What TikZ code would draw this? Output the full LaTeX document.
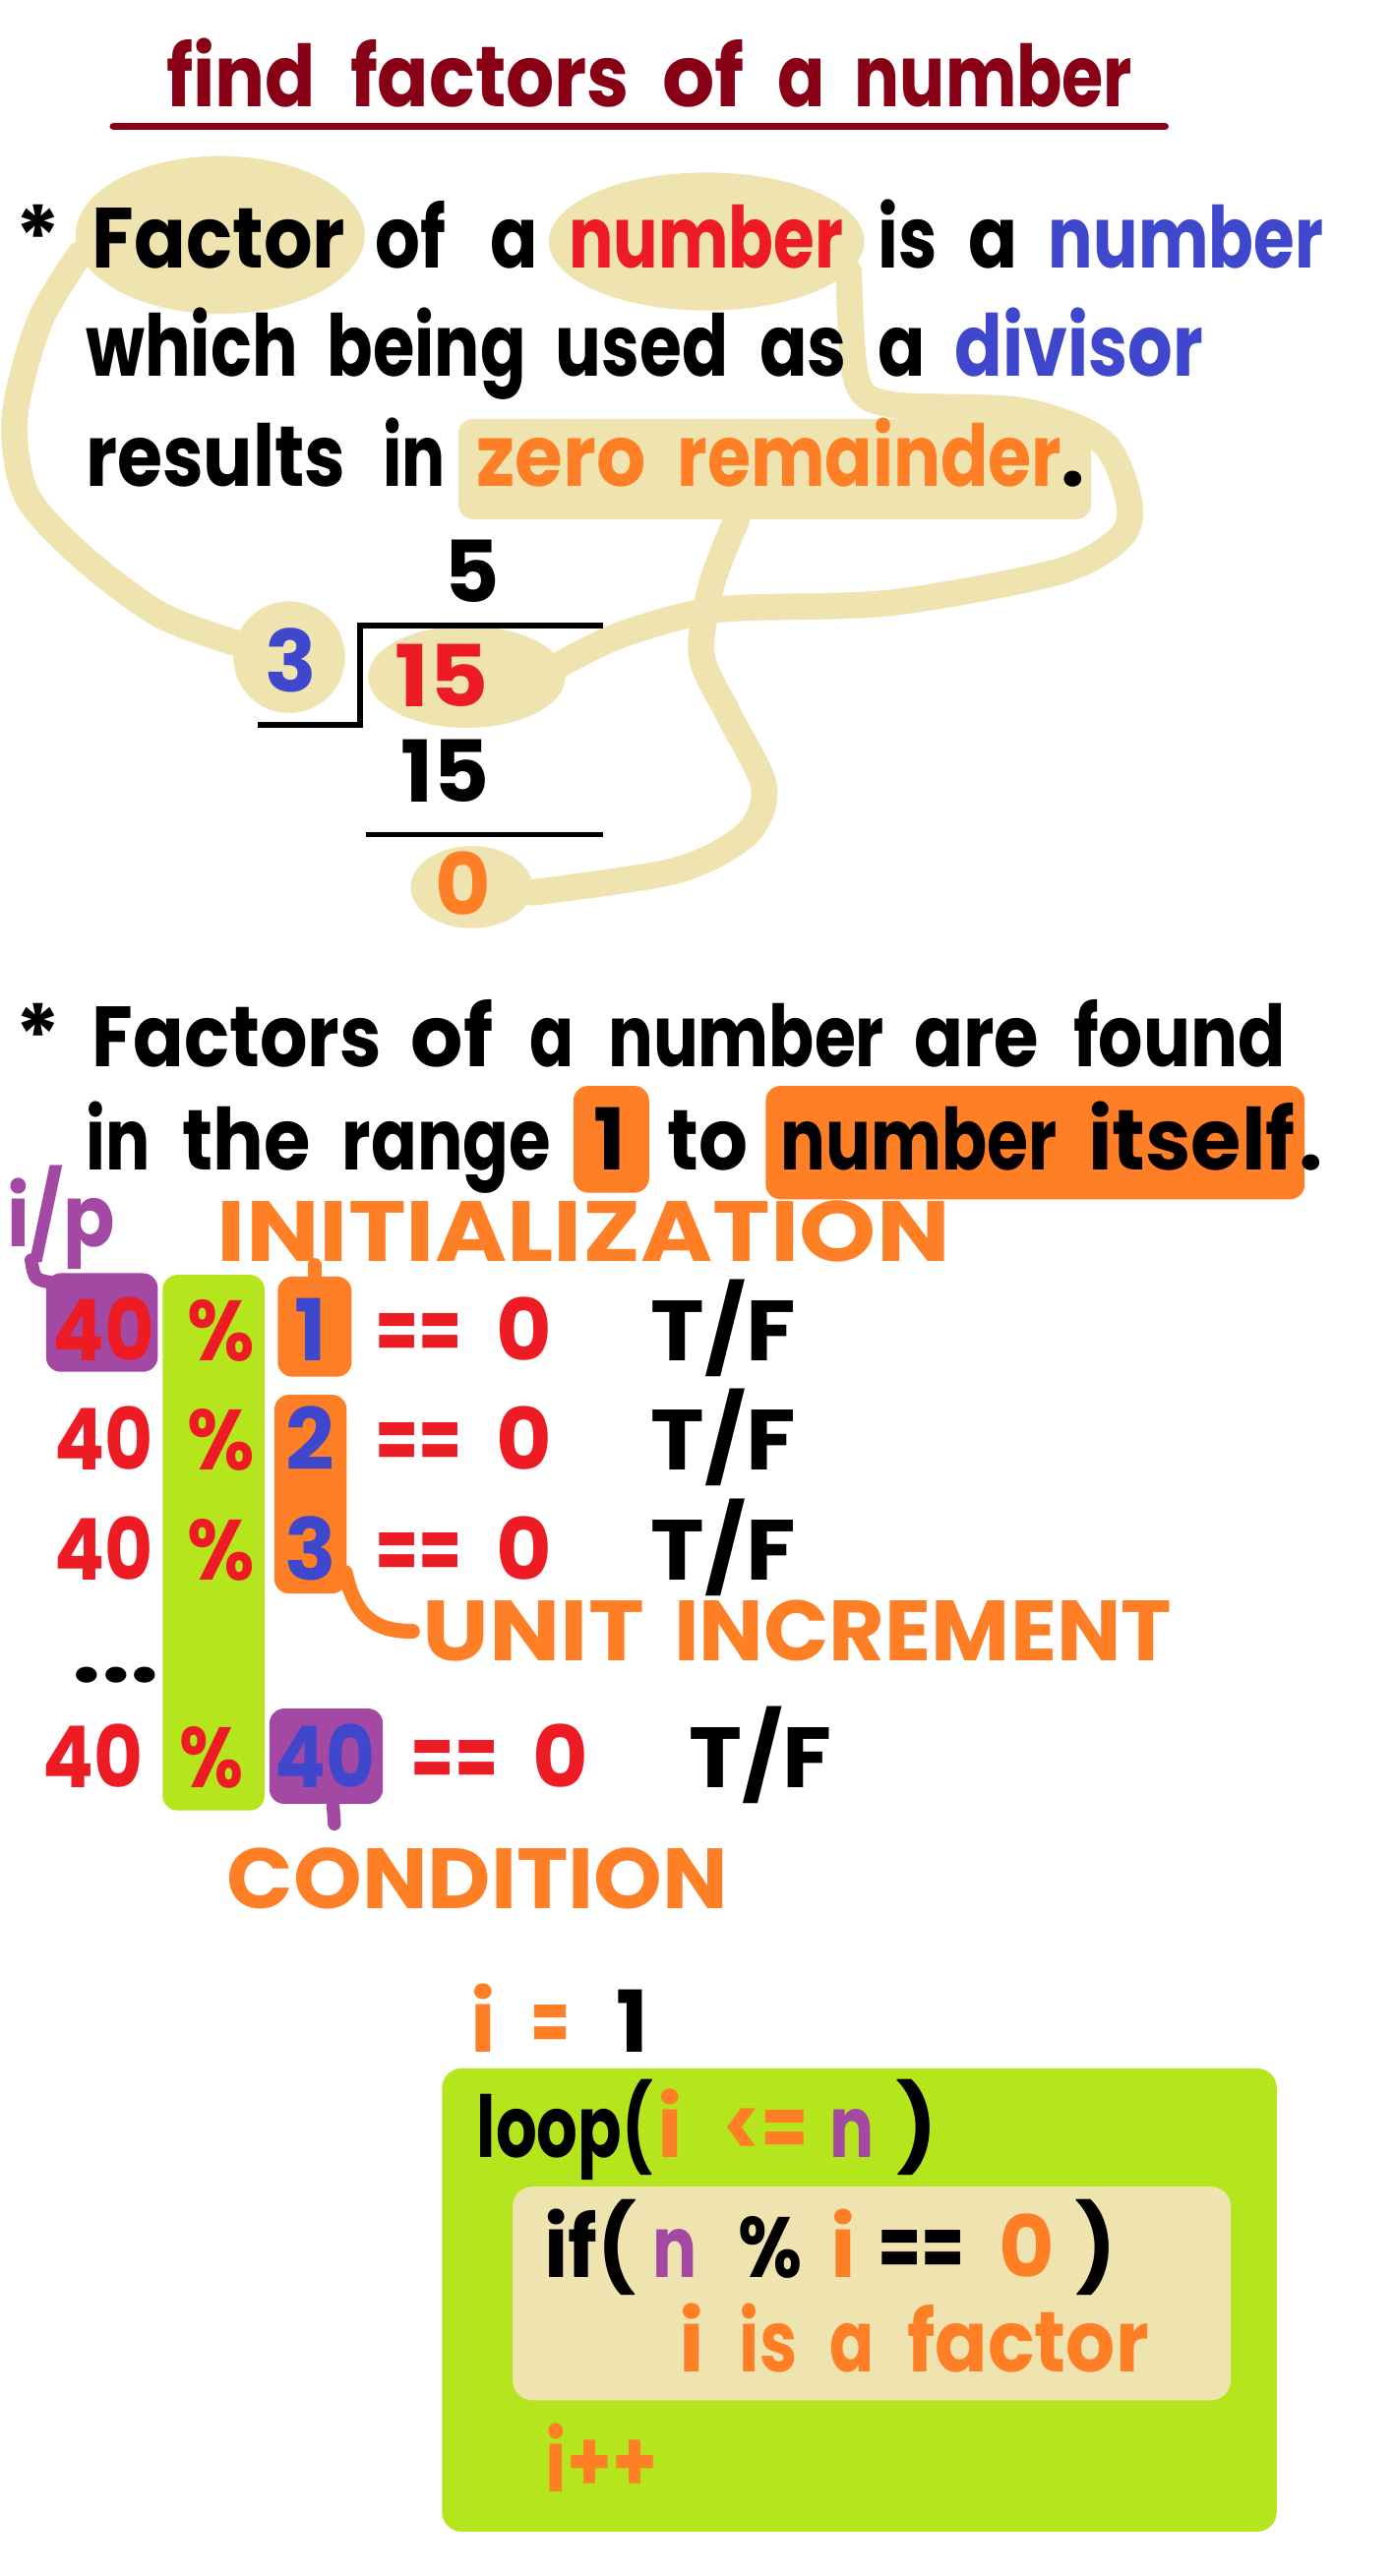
\documentclass[tikz,border=0pt]{standalone}
\usepackage{fontspec}
\setmainfont{Poppins}
\usetikzlibrary{shapes.geometric,calc}
\definecolor{dred}{HTML}{880015}
\definecolor{pred}{HTML}{ED1C24}
\definecolor{pblue}{HTML}{3F48CC}
\definecolor{porange}{HTML}{FF7F27}
\definecolor{pbeige}{HTML}{EFE4B0}
\definecolor{plime}{HTML}{B5E61D}
\definecolor{ppurple}{HTML}{A349A4}
\newcommand\tx[6]{\pgfmathsetmacro\tmpw{#3-#2+4}\node[txt,text=#5,anchor=base west] (#1) at ({#2-2},#4) {\resizebox{\tmpw pt}{\height}{#6}};}
\newcommand\ch[5]{\node[txt,text=#4,anchor=base] (#1) at (#2,#3) {#5};}
\tikzset{
  txt/.style={inner sep=0pt, font=\bfseries\fontsize{52}{60}\selectfont},
  bg/.style={draw=none, inner sep=0pt, rounded corners=9pt},
  ell/.style={ellipse, draw=none, fill=pbeige, inner sep=0pt},
  beigeline/.style={draw=pbeige, line width=16pt, line cap=round, line join=round},
  stub/.style={line width=8pt, line cap=round}
}
\begin{document}
\begin{tikzpicture}[x=1pt,y=-1pt]
\fill[white] (0,0) rectangle (848,1568);
\useasboundingbox (0,0) rectangle (848,1568);

% ---------- section 1 backgrounds
\node[ell, minimum width=176, minimum height=96] (fE) at (134,143) {};
\node[ell, minimum width=192, minimum height=84] (nE) at (430,147) {};
\node[ell, minimum width=68, minimum height=68] (e3) at (176,400) {};
\node[ell, minimum width=120, minimum height=62] (e15) at (284,412) {};
\node[ell, minimum width=74, minimum height=50] (e0) at (287,540) {};
\node[bg, fill=pbeige, minimum width=385, minimum height=61] (zr) at (471.5,285.5) {};
\draw[beigeline] plot[smooth] coordinates {(fE.188) (24,196) (9,254) (16,301) (49,338) (97,374) (e3.165)};
\draw[beigeline] plot[smooth] coordinates {(nE.-12) (521,230) (541,246) (622,250) (671,269) (687,305) (682,327) (644,348) (541,367) (438,371) (379,386) (e15.8)};
\draw[beigeline] plot[smooth] coordinates {($(zr.south west)!0.44!(zr.south east)$) (433,356) (427,399) (444,436) (465,479) (454,508) (411,530) (e0.-5)};

% ---------- section 2 backgrounds
\node[bg, fill=porange, minimum width=46, minimum height=65] (b1t) at (372,693.5) {};
\node[bg, fill=porange, minimum width=328, minimum height=69] (bnum) at (630,695.5) {};
\node[bg, fill=ppurple, minimum width=68, minimum height=60] (pb1) at (62,805) {};
\node[bg, fill=plime, minimum width=62, minimum height=326] (gbar) at (130,939) {};
\node[bg, fill=porange, minimum width=45, minimum height=61] (b1) at (191.5,807.5) {};
\node[bg, fill=porange, minimum width=44, minimum height=121] (b23) at (189,909.5) {};
\node[bg, fill=ppurple, minimum width=69, minimum height=58] (pb4) at (198.5,1069) {};

% ---------- section 3 backgrounds
\node[bg, fill=plime, rounded corners=12pt, minimum width=508, minimum height=282] (gbox) at (523,1400) {};
\node[bg, fill=pbeige, rounded corners=12pt, minimum width=437, minimum height=130] (bbox) at (530.5,1396) {};

% ---------- title
\tx{t1}{103}{190}{65}{dred}{find}
\tx{t2}{215}{381}{65}{dred}{factors}
\tx{t3}{405}{451}{65}{dred}{of}
\tx{t4}{475}{500}{65}{dred}{a}
\tx{t5}{522}{687}{65}{dred}{number}
\draw[dred, line width=4.5pt, line cap=round] (69,77) -- (709,77);

% ---------- paragraph 1
\ch{s1}{23}{163}{black}{*}
\tx{l1a}{58}{208}{163}{black}{Factor}
\tx{l1b}{230}{269}{163}{black}{of}
\tx{l1c}{300}{325}{163}{black}{a}
\tx{l1d}{348}{511}{163}{pred}{number}
\tx{l1e}{536}{568}{163}{black}{is}
\tx{l1f}{591}{617}{163}{black}{a}
\tx{l1g}{640}{803}{163}{pblue}{number}
\tx{l2a}{54}{179}{229}{black}{which}
\tx{l2b}{201}{318}{229}{black}{being}
\tx{l2c}{340}{441}{229}{black}{used}
\tx{l2d}{464}{513}{229}{black}{as}
\tx{l2e}{536}{561}{229}{black}{a}
\tx{l2f}{583}{730}{229}{pblue}{divisor}
\tx{l3a}{54}{208}{296}{black}{results}
\tx{l3b}{235}{269}{296}{black}{in}
\tx{l3c}{292}{391}{296}{porange}{zero}
\tx{l3d}{414}{644}{296}{porange}{remainder}
\ch{l3e}{653}{296}{black}{.}

% ---------- division
\draw[line width=3.5pt] (157,441) -- (219,441) -- (219,381) -- (367,381);
\draw[line width=3.5pt] (223,508) -- (367,508);
\ch{d5}{287}{367}{black}{5}
\ch{d3}{177}{421}{pblue}{3}
\tx{d15r}{242}{295}{430}{pred}{15}
\tx{d15b}{246}{296}{488}{black}{15}
\ch{d0}{282}{557}{porange}{0}

% ---------- paragraph 2
\ch{s2}{23}{649}{black}{*}
\tx{m1a}{58}{230}{649}{black}{Factors}
\tx{m1b}{252}{298}{649}{black}{of}
\tx{m1c}{324}{347}{649}{black}{a}
\tx{m1d}{372}{536}{649}{black}{number}
\tx{m1e}{558}{630}{649}{black}{are}
\tx{m1f}{655}{780}{649}{black}{found}
\tx{m2a}{54}{89}{712}{black}{in}
\tx{m2b}{113}{187}{712}{black}{the}
\tx{m2c}{210}{333}{712}{black}{range}
\ch{m2d}{371}{712}{black}{1}
\tx{m2e}{408}{453}{712}{black}{to}
\tx{m2f}{477}{641}{712}{black}{number}
\tx{m2g}{664}{786}{712}{black}{itself}
\ch{m2h}{798}{712}{black}{.}

\tx{ip}{6}{68}{759}{ppurple}{i/p}
\tx{init}{134}{576}{768}{porange}{INITIALIZATION}

% rows
\tx{r1a}{34}{92}{828}{pred}{40}
\tx{r1b}{116}{153}{828}{pred}{\%}
\ch{r1c}{189}{828}{pblue}{1}
\tx{r1d}{230}{279}{828}{pred}{==}
\ch{r1e}{319}{828}{pred}{0}
\tx{r1f}{398}{482}{828}{black}{T/F}

\tx{r2a}{35}{91}{895}{pred}{40}
\tx{r2b}{116}{153}{895}{pred}{\%}
\ch{r2c}{189}{895}{pblue}{2}
\tx{r2d}{230}{279}{895}{pred}{==}
\ch{r2e}{319}{895}{pred}{0}
\tx{r2f}{398}{482}{895}{black}{T/F}

\tx{r3a}{35}{91}{962}{pred}{40}
\tx{r3b}{116}{153}{962}{pred}{\%}
\ch{r3c}{189}{962}{pblue}{3}
\tx{r3d}{230}{279}{962}{pred}{==}
\ch{r3e}{319}{962}{pred}{0}
\tx{r3f}{398}{482}{962}{black}{T/F}

\tx{dots}{46}{95}{1024}{black}{...}

\tx{r4a}{28}{85}{1088}{pred}{40}
\tx{r4b}{111}{146}{1088}{pred}{\%}
\tx{r4c}{169}{226}{1088}{pblue}{40}
\tx{r4d}{252}{301}{1088}{pred}{==}
\ch{r4e}{341}{1088}{pred}{0}
\tx{r4f}{421}{504}{1088}{black}{T/F}

\tx{unit}{259}{390}{1011}{porange}{UNIT}
\tx{incr}{412}{711}{1011}{porange}{INCREMENT}
\tx{cond}{140}{441}{1162}{porange}{CONDITION}

% stubs / connectors
\draw[stub, ppurple] ($(ip.base west)+(15,8)$) .. controls +(2,12) .. ($(pb1.north west)+(5,6)$);
\draw[stub, porange] (b1.north) -- ++(0,-7);
\draw[stub, ppurple] ($(pb4.south)+(4,-2)$) -- ++(1,14);
\draw[porange, line width=9pt, line cap=round] ($(b23.south east)+(-1,-13)$) .. controls (216,984) and (228,993) .. ($(unit.west)+(-6,0)$);

% ---------- section 3 text
\ch{c1a}{294}{1249}{porange}{i}
\tx{c1b}{325}{345}{1249}{porange}{=}
\ch{c1c}{385}{1249}{black}{1}

\tx{c2a}{292}{395}{1313}{black}{loop(}
\ch{c2b}{408}{1313}{porange}{i}
\tx{c2c}{442}{490}{1313}{porange}{<=}
\tx{c2d}{507}{530}{1313}{ppurple}{n}
\ch{c2e}{558}{1313}{black}{)}

\tx{c3a}{333}{385}{1386}{black}{if(}
\tx{c3b}{399}{422}{1386}{ppurple}{n}
\tx{c3c}{451}{486}{1386}{black}{\%}
\ch{c3d}{513}{1386}{porange}{i}
\tx{c3e}{536}{585}{1386}{black}{==}
\ch{c3f}{625}{1386}{porange}{0}
\ch{c3g}{667}{1386}{black}{)}

\ch{c4a}{421}{1444}{porange}{i}
\tx{c4b}{452}{483}{1444}{porange}{is}
\tx{c4c}{507}{530}{1444}{porange}{a}
\tx{c4d}{554}{697}{1444}{porange}{factor}

\tx{c5}{334}{398}{1517}{porange}{i++}
\end{tikzpicture}
\end{document}
